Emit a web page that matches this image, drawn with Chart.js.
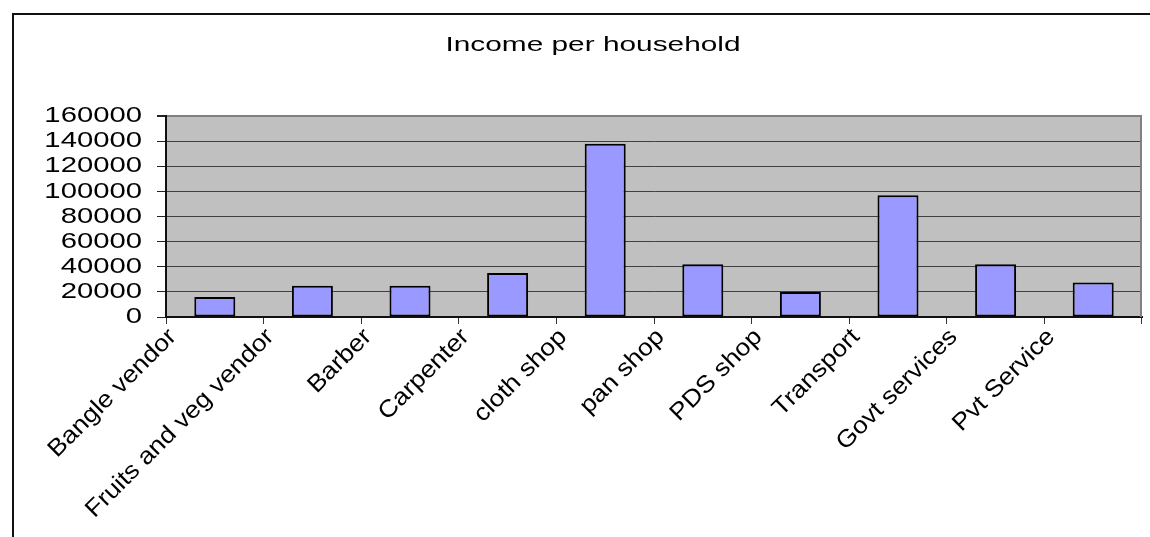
<!DOCTYPE html>
<html>
<head>
<meta charset="utf-8">
<title>Income per household</title>
<script src="https://cdn.jsdelivr.net/npm/chart.js@4.4.1/dist/chart.umd.min.js"></script>
<style>
  html, body { margin: 0; padding: 0; background: #fff; overflow: hidden; }
  #frame {
    position: absolute; left: 12px; top: 13px; width: 1200px; height: 600px;
    border-left: 2px solid #111; border-top: 2px solid #111;
  }
  #wrap { position: absolute; left: 0; top: 0; width: 1150px; height: 537px; }
</style>
</head>
<body>
<div id="frame"></div>
<div id="wrap"><canvas id="incomeChart" width="1150" height="537"></canvas></div>
<script>
const categories = [
  "Bangle vendor", "Fruits and veg vendor", "Barber", "Carpenter", "cloth shop",
  "pan shop", "PDS shop", "Transport", "Govt services", "Pvt Service"
];
const incomeValues = [16000, 25000, 25000, 35000, 138000, 42000, 20000, 97000, 42000, 27500];
const yTickValues = [0, 20000, 40000, 60000, 80000, 100000, 120000, 140000, 160000];

const FONT = "'Liberation Sans', Arial, sans-serif";

// the reference text is drawn wide, so stretch glyphs along the baseline (keyed by font size)
const textStretch = { 21: 1.42, 22: 1.33, 24: 1.1 };
const canvas = document.getElementById("incomeChart");
const ctx2d = canvas.getContext("2d");
const baseFillText = ctx2d.fillText;
ctx2d.fillText = function (text, x, y, maxWidth) {
  const m = /([\d.]+)px/.exec(this.font);
  const k = (m && textStretch[parseFloat(m[1])]) || 1;
  this.save();
  this.translate(x, y);
  this.scale(k, 1);
  if (maxWidth === undefined) {
    baseFillText.call(this, text, 0, 0);
  } else {
    baseFillText.call(this, text, 0, 0, maxWidth / k);
  }
  this.restore();
};

const plotArea = {
  id: "plotArea",
  beforeDraw(chart) {
    const { ctx, chartArea: a } = chart;
    ctx.save();
    ctx.fillStyle = "#c0c0c0";
    ctx.fillRect(a.left, a.top, a.right - a.left, a.bottom - a.top);
    ctx.restore();
  },
  beforeDatasetsDraw(chart) {
    const { ctx, chartArea: a } = chart;
    ctx.save();
    ctx.strokeStyle = "#808080";
    ctx.lineWidth = 2;
    ctx.beginPath();
    ctx.moveTo(a.right - 1, a.top);
    ctx.lineTo(a.right - 1, a.bottom);
    ctx.stroke();
    ctx.restore();
  }
};

new Chart(canvas, {
  type: "bar",
  data: {
    labels: categories,
    datasets: [
      {
        label: "Income per household",
        data: incomeValues,
        backgroundColor: "#9999ff",
        borderColor: "#000",
        borderWidth: 2,
        borderSkipped: false,
        categoryPercentage: 1,
        barPercentage: 0.42
      }
    ]
  },
  options: {
    responsive: false,
    animation: false,
    layout: { padding: { left: 44, right: 8, top: 0, bottom: 0 } },
    plugins: {
      legend: { display: false },
      tooltip: { enabled: false },
      title: {
        display: true,
        text: "Income per household",
        color: "#000",
        font: { family: FONT, size: 21, weight: "normal" },
        padding: { top: 33, bottom: 58 }
      }
    },
    scales: {
      x: {
        grid: {
          offset: true,
          drawOnChartArea: false,
          tickLength: 7,
          color: "#333",
          lineWidth: 1
        },
        border: { display: true, color: "#111", width: 2 },
        ticks: {
          autoSkip: false,
          minRotation: 45,
          maxRotation: 45,
          padding: -1,
          labelOffset: -42,
          color: "#000",
          font: { family: FONT, size: 24 }
        },
        afterFit(scale) {
          scale.height = 220;
        }
      },
      y: {
        min: 0,
        max: 160000,
        afterBuildTicks(scale) {
          scale.ticks = yTickValues.map((v) => ({ value: v }));
        },
        grid: {
          color: (c) => (c.tick && c.tick.value === 160000 ? "#808080" : "#404040"),
          lineWidth: (c) => (c.tick && c.tick.value === 160000 ? 2 : 1),
          tickColor: "#222",
          tickLength: 9
        },
        border: { display: true, color: "#111", width: 2 },
        ticks: {
          autoSkip: false,
          padding: 15,
          color: "#000",
          font: { family: FONT, size: 22 },
          callback: (v) => String(v)
        },
        afterFit(scale) {
          scale.width = 122;
        }
      }
    }
  },
  plugins: [plotArea]
});
</script>
</body>
</html>
